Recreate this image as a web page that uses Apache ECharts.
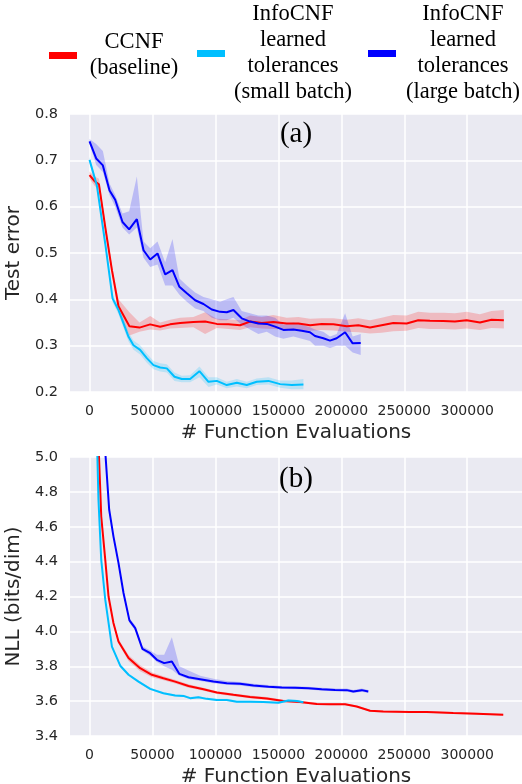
<!DOCTYPE html>
<html>
<head>
<meta charset="utf-8">
<script src="https://cdn.jsdelivr.net/npm/echarts@6/dist/echarts.min.js"></script>
<style>html,body{margin:0;padding:0;background:#fff;}#c{width:522px;height:784px;}</style>
</head>
<body>
<div id="c"></div>
<script>
// ---- Data ----
const seriesNames = ['CCNF\n(baseline)', 'InfoCNF\nlearned\ntolerances\n(small batch)', 'InfoCNF\nlearned\ntolerances\n(large batch)'];
const xTicks = [0, 50000, 100000, 150000, 200000, 250000, 300000];
const topYTicks = [0.2, 0.3, 0.4, 0.5, 0.6, 0.7, 0.8];
const botYTicks = [3.4, 3.6, 3.8, 4.0, 4.2, 4.4, 4.6, 4.8, 5.0];

// (a) Test error
const redTopX = [0,4000,7500,12500,17800,23000,31700,39700,48200,56100,64000,72000,82500,91800,101100,110300,119600,127500,136800,146000,156600,165900,175200,184400,193700,204300,213500,222800,232000,241300,251900,261100,270400,281000,290200,299500,310100,319300,329100];
const redTopY = [0.668,0.655,0.648,0.556,0.463,0.385,0.342,0.339,0.346,0.341,0.346,0.349,0.351,0.352,0.347,0.346,0.344,0.352,0.349,0.351,0.348,0.348,0.344,0.347,0.346,0.342,0.344,0.339,0.344,0.349,0.348,0.355,0.354,0.353,0.352,0.355,0.350,0.356,0.355];
const redTopLo = [0.66,0.645,0.635,0.545,0.455,0.372,0.322,0.330,0.335,0.333,0.337,0.338,0.34,0.325,0.338,0.336,0.334,0.34,0.337,0.336,0.335,0.335,0.332,0.334,0.333,0.330,0.329,0.326,0.328,0.331,0.332,0.338,0.336,0.336,0.335,0.337,0.334,0.338,0.337];
const redTopHi = [0.676,0.665,0.66,0.567,0.473,0.40,0.372,0.35,0.364,0.35,0.356,0.36,0.362,0.372,0.358,0.357,0.355,0.365,0.362,0.366,0.360,0.362,0.358,0.359,0.359,0.356,0.359,0.355,0.360,0.366,0.365,0.373,0.371,0.371,0.370,0.373,0.368,0.375,0.377];

const cyanTopX = [0,5900,12500,16400,18300,23000,27000,31000,34900,40200,45500,50800,56100,61400,67500,73300,79900,87300,94500,101100,109000,117000,124900,132800,142100,151400,160600,169900];
const cyanTopY = [0.701,0.645,0.52,0.441,0.402,0.377,0.348,0.319,0.301,0.291,0.273,0.258,0.253,0.251,0.233,0.228,0.228,0.245,0.222,0.224,0.215,0.220,0.215,0.222,0.224,0.217,0.215,0.216];
const cyanTopLo = [0.695,0.638,0.512,0.433,0.394,0.368,0.338,0.309,0.291,0.281,0.263,0.249,0.244,0.242,0.224,0.221,0.221,0.232,0.211,0.216,0.208,0.212,0.208,0.215,0.216,0.209,0.206,0.206];
const cyanTopHi = [0.707,0.652,0.528,0.449,0.41,0.386,0.358,0.329,0.311,0.301,0.283,0.267,0.262,0.26,0.242,0.235,0.236,0.255,0.232,0.232,0.222,0.228,0.222,0.229,0.232,0.225,0.225,0.228];

const blueTopX = [0,5300,10600,15900,20400,26200,31500,37600,42900,48200,54000,60100,65900,71400,77300,83900,90500,97100,103700,109000,114300,120900,127500,134100,140800,147400,154000,161900,168600,175100,179100,185700,191000,196300,203000,209000,215400];
const blueTopY = [0.741,0.704,0.689,0.635,0.615,0.567,0.551,0.573,0.506,0.486,0.499,0.454,0.463,0.427,0.413,0.398,0.390,0.378,0.373,0.372,0.377,0.359,0.352,0.348,0.347,0.341,0.334,0.335,0.332,0.329,0.321,0.316,0.311,0.316,0.329,0.305,0.306];
const blueTopLo = [0.736,0.69,0.675,0.625,0.60,0.555,0.54,0.555,0.49,0.47,0.475,0.43,0.43,0.41,0.395,0.38,0.375,0.36,0.355,0.355,0.36,0.345,0.335,0.325,0.33,0.32,0.315,0.32,0.315,0.31,0.30,0.30,0.295,0.30,0.30,0.285,0.28];
const blueTopHi = [0.746,0.735,0.72,0.65,0.625,0.585,0.59,0.665,0.525,0.51,0.525,0.48,0.53,0.445,0.43,0.415,0.405,0.40,0.395,0.40,0.405,0.375,0.37,0.365,0.365,0.36,0.345,0.35,0.345,0.34,0.335,0.33,0.32,0.325,0.37,0.32,0.325];

// (b) NLL (bits/dim)
const redBotX = [5500,9300,12500,15100,19000,23000,31000,40200,49500,58700,68000,78600,90500,101100,114300,127500,140800,154000,167200,180500,191000,203000,212200,222800,233300,254500,267800,288900,307400,328600];
const redBotY = [5.4,4.660,4.411,4.200,4.048,3.942,3.847,3.789,3.751,3.731,3.712,3.687,3.668,3.649,3.636,3.624,3.615,3.601,3.595,3.584,3.582,3.582,3.569,3.545,3.540,3.538,3.538,3.532,3.528,3.522];
const redBotLo = [5.38,4.645,4.398,4.188,4.035,3.93,3.83,3.772,3.737,3.719,3.701,3.677,3.659,3.641,3.628,3.616,3.607,3.594,3.588,3.578,3.576,3.576,3.563,3.539,3.535,3.533,3.533,3.527,3.523,3.517];
const redBotHi = [5.42,4.675,4.424,4.212,4.061,3.956,3.864,3.806,3.765,3.743,3.723,3.697,3.677,3.657,3.644,3.632,3.623,3.608,3.602,3.590,3.588,3.588,3.575,3.551,3.545,3.543,3.543,3.537,3.533,3.527];

const cyanBotX = [4500,7100,9300,12500,17800,24400,31000,38900,48200,58700,68000,74600,79900,86500,93200,101100,109000,117000,127500,138100,150000,157900,164600,169900];
const cyanBotY = [5.5,4.756,4.411,4.182,3.913,3.803,3.751,3.712,3.670,3.645,3.632,3.630,3.617,3.622,3.613,3.607,3.607,3.597,3.597,3.595,3.591,3.603,3.601,3.594];
const cyanBotLo = [5.48,4.746,4.401,4.172,3.905,3.795,3.744,3.705,3.664,3.639,3.626,3.624,3.611,3.616,3.607,3.601,3.601,3.591,3.591,3.589,3.585,3.596,3.594,3.588];
const cyanBotHi = [5.52,4.766,4.421,4.192,3.921,3.811,3.758,3.719,3.676,3.651,3.638,3.636,3.623,3.628,3.619,3.613,3.613,3.603,3.603,3.601,3.597,3.61,3.608,3.6];

const blueBotX = [10000,15600,19000,23000,27000,31700,36300,42000,48200,53500,59300,65400,71400,78600,87900,98400,109000,119600,130200,142100,152700,163300,173800,184400,195000,204300,209500,216200,221400];
const blueBotY = [5.3,4.699,4.545,4.393,4.220,4.063,4.019,3.90,3.875,3.837,3.818,3.827,3.756,3.737,3.726,3.712,3.703,3.699,3.689,3.683,3.678,3.676,3.674,3.668,3.664,3.663,3.655,3.663,3.655];
const blueBotLo = [5.28,4.69,4.535,4.383,4.21,4.05,4.005,3.89,3.86,3.825,3.80,3.78,3.745,3.727,3.716,3.703,3.694,3.69,3.68,3.675,3.67,3.668,3.666,3.66,3.656,3.655,3.647,3.654,3.647];
const blueBotHi = [5.32,4.709,4.555,4.403,4.23,4.076,4.033,3.915,3.89,3.866,3.866,3.967,3.80,3.775,3.745,3.728,3.716,3.71,3.699,3.693,3.687,3.685,3.683,3.677,3.673,3.672,3.664,3.673,3.664];

// ---- Styling ----
const colors = ['#ff0000', '#00bfff', '#0000ff'];
const bandColors = ['rgba(255,0,0,0.2)', 'rgba(0,191,255,0.2)', 'rgba(0,0,255,0.2)'];
const tickFont = 'DejaVu Sans';
const textColor = '#262626';

function pairs(xs, ys) { return xs.map((x, i) => [x, ys[i]]); }

function band(idx, g, xs, lo, hi) {
  return {
    type: 'custom', name: 'band' + g + '_' + idx, xAxisIndex: g, yAxisIndex: g,
    clip: true, silent: true, z: 2,
    data: [[xs[0], lo[0]]],
    renderItem: function (params, api) {
      const pts = [];
      for (let i = 0; i < xs.length; i++) pts.push(api.coord([xs[i], hi[i]]));
      for (let i = xs.length - 1; i >= 0; i--) pts.push(api.coord([xs[i], lo[i]]));
      return { type: 'polygon', shape: { points: pts }, style: { fill: bandColors[idx] } };
    }
  };
}
function line(idx, g, xs, ys) {
  return {
    type: 'line', name: seriesNames[idx], xAxisIndex: g, yAxisIndex: g,
    data: pairs(xs, ys), showSymbol: false, symbol: 'none', clip: true, z: 3,
    lineStyle: { color: colors[idx], width: 2 }, itemStyle: { color: colors[idx] }
  };
}

function xAxis(g, gap) {
  return {
    type: 'value', gridIndex: g, min: -15500, max: 343500,
    name: '# Function Evaluations', nameLocation: 'middle', nameGap: gap,
    nameTextStyle: { fontFamily: tickFont, fontSize: 20, color: textColor },
    axisLine: { show: false },
    axisTick: { show: false, customValues: xTicks },
    axisLabel: { customValues: xTicks, fontFamily: tickFont, fontSize: 14, color: textColor, margin: 12,
      formatter: v => String(v) },
    splitLine: { show: true, lineStyle: { color: '#ffffff', width: 1.5 } }
  };
}
function yAxis(g, name, ticks) {
  return {
    type: 'value', gridIndex: g, min: ticks[0], max: ticks[ticks.length - 1],
    interval: Math.round((ticks[1] - ticks[0]) * 10) / 10,
    name: name, nameLocation: 'middle', nameGap: 42,
    nameTextStyle: { fontFamily: tickFont, fontSize: 20, color: textColor },
    axisLine: { show: false }, axisTick: { show: false },
    axisLabel: { fontFamily: tickFont, fontSize: 14.5, color: textColor, margin: 12,
      formatter: v => v.toFixed(1) },
    splitLine: { show: true, lineStyle: { color: '#ffffff', width: 1.5 } }
  };
}

function legendFor(idx, left, top, w) {
  return {
    data: [seriesNames[idx]], left: left, top: top, padding: 0,
    icon: 'rect', itemWidth: 28, itemHeight: 7,
    itemStyle: { color: colors[idx] },
    selectedMode: false,
    formatter: n => n.split('\n').map(s => '{t|' + s + '}').join('\n'),
    textStyle: {
      rich: { t: { width: w, align: 'center', fontFamily: 'Liberation Serif', fontSize: 22.5, lineHeight: 26, color: '#000' } }
    }
  };
}

const chart = echarts.init(document.getElementById('c'), null, { renderer: 'canvas' });
chart.setOption({
  animation: false,
  backgroundColor: '#ffffff',
  legend: [
    legendFor(0, 49, 31, 104),
    legendFor(1, 197, 3, 126),
    legendFor(2, 368, 3, 124)
  ],
  grid: [
    { left: 70, right: 0, top: 114, height: 278, show: true, backgroundColor: '#eaeaf2', borderWidth: 0, containLabel: false, outerBoundsMode: 'none' },
    { left: 70, right: 0, top: 457, height: 279, show: true, backgroundColor: '#eaeaf2', borderWidth: 0, containLabel: false, outerBoundsMode: 'none' }
  ],
  xAxis: [xAxis(0, 31), xAxis(1, 31)],
  yAxis: [yAxis(0, 'Test error', topYTicks), yAxis(1, 'NLL (bits/dim)', botYTicks)],
  graphic: [
    { type: 'text', x: 296, y: 134, z: 100, style: { text: '(a)', fontFamily: 'Liberation Serif', fontSize: 29, fill: '#000', align: 'center', verticalAlign: 'middle' } },
    { type: 'text', x: 296, y: 479, z: 100, style: { text: '(b)', fontFamily: 'Liberation Serif', fontSize: 29, fill: '#000', align: 'center', verticalAlign: 'middle' } }
  ],
  series: [
    band(0, 0, redTopX, redTopLo, redTopHi), line(0, 0, redTopX, redTopY),
    band(1, 0, cyanTopX, cyanTopLo, cyanTopHi), line(1, 0, cyanTopX, cyanTopY),
    band(2, 0, blueTopX, blueTopLo, blueTopHi), line(2, 0, blueTopX, blueTopY),
    band(0, 1, redBotX, redBotLo, redBotHi), line(0, 1, redBotX, redBotY),
    band(1, 1, cyanBotX, cyanBotLo, cyanBotHi), line(1, 1, cyanBotX, cyanBotY),
    band(2, 1, blueBotX, blueBotLo, blueBotHi), line(2, 1, blueBotX, blueBotY)
  ]
});
</script>
</body>
</html>
